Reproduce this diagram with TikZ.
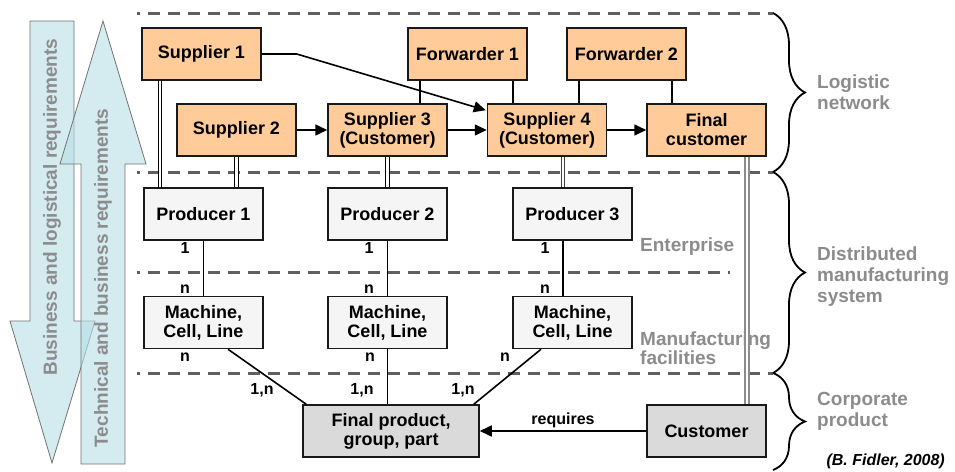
\documentclass[tikz,border=0pt]{standalone}
\usepackage{fontspec}
\setmainfont{Liberation Sans}
\usetikzlibrary{arrows.meta,decorations.pathreplacing,calc}
\definecolor{peach}{HTML}{FFCC99}
\definecolor{lightbox}{HTML}{F5F5F5}
\definecolor{greybox}{HTML}{DADADA}
\definecolor{labelgrey}{HTML}{8C8C8C}
\definecolor{dashgrey}{HTML}{5F5F5F}
\definecolor{arrowfill}{HTML}{B8DEE6}
\tikzset{
  box/.style={draw=black!90, line width=1.5pt, minimum width=119pt, minimum height=52pt,
    inner sep=0pt, align=center, font=\fontsize{18}{19}\selectfont\bfseries},
  orangebox/.style={box, fill=peach},
  whitebox/.style={box, fill=lightbox},
  greyboxst/.style={box, fill=greybox},
  arr/.style={line width=1.6pt, -{Triangle[length=12pt,width=11pt]}},
  plain/.style={line width=1.6pt},
  dbl/.style={double, line width=1.2pt, double distance=2.2pt},
  thindbl/.style={double, draw=black!75, line width=0.9pt, double distance=2.2pt},
  greydbl/.style={double, draw=black!45, line width=1.3pt, double distance=2.6pt},
  sep/.style={draw=dashgrey, line width=3pt, dash pattern=on 12pt off 8pt, dash phase=9pt},
  brc/.style={decorate, decoration={brace, amplitude=32pt}, line width=1.8pt},
  glabel/.style={text=labelgrey, font=\fontsize{19}{21}\selectfont\bfseries, align=left, anchor=west, inner sep=0pt},
  card/.style={font=\fontsize{16}{17}\selectfont\bfseries, inner sep=0pt},
  bigarrow/.style={draw=black!55, line width=0.8pt, fill=arrowfill, fill opacity=0.6},
  arrtext/.style={text=labelgrey, font=\fontsize{19}{21}\selectfont\bfseries, rotate=90, inner sep=0pt}
}
\begin{document}
\begin{tikzpicture}[x=1pt,y=-1pt]
\useasboundingbox (0,0) rectangle (955,471);
\fill[white] (0,0) rectangle (955,471);

% big arrows
\draw[bigarrow] (30,21) -- (74,21) -- (74,321) -- (95,321) -- (52,463) -- (10,321) -- (30,321) -- cycle;
\draw[bigarrow] (81,464) -- (125,464) -- (125,164) -- (146,164) -- (103,21) -- (60,164) -- (81,164) -- cycle;
\node[arrtext] (t1) at (52,207) {Business and logistical requirements};
\node[arrtext] (t2) at (103,278) {Technical and business requirements};

% separators
\draw[sep] (137,13) -- (773,13);
\draw[sep] (137,172) -- (773,172);
\draw[sep] (137,272) -- (730,272);
\draw[sep] (137,373) -- (773,373);

% braces
\draw[brc] (773,13) -- (773,172);
\draw[brc] (773,172) -- (773,373);
\draw[brc] (773,373) -- (773,470);

% grey labels
\node[glabel] (l1) at (817,92) {Logistic\\network};
\node[glabel] (l2) at (817,277) {Distributed\\manufacturing\\system};
\node[glabel] (l3) at (817,411) {Corporate\\product};
\node[glabel] (l4) at (640,247) {Enterprise};
\node[glabel, font=\fontsize{19}{17}\selectfont\bfseries] (l5) at (640,348) {Manufacturing\\facilities};
\node[anchor=east, font=\fontsize{16}{17}\selectfont\bfseries\itshape, inner sep=0pt] (src) at (945,461) {(B. Fidler, 2008)};

% boxes
\node[orangebox] (S1) at (201.5,54) {Supplier 1};
\node[orangebox] (S2) at (236.5,130) {Supplier 2};
\node[orangebox] (F1) at (467.5,54) {Forwarder 1};
\node[orangebox] (F2) at (626.5,54) {Forwarder 2};
\node[orangebox] (S3) at (387.5,130) {Supplier 3\\(Customer)};
\node[orangebox] (S4) at (547,130) {Supplier 4\\(Customer)};
\node[orangebox] (FC) at (706.5,130) {Final\\customer};
\node[whitebox] (P1) at (203.5,214) {Producer 1};
\node[whitebox] (P2) at (387.5,214) {Producer 2};
\node[whitebox] (P3) at (572.5,214) {Producer 3};
\node[whitebox] (M1) at (203.5,322.5) {Machine,\\Cell, Line};
\node[whitebox] (M2) at (387.5,322.5) {Machine,\\Cell, Line};
\node[whitebox] (M3) at (572.5,322.5) {Machine,\\Cell, Line};
\node[greyboxst, minimum width=176pt] (FP) at (391,431) {Final product,\\group, part};
\node[greyboxst] (Cu) at (706.5,431) {Customer};

% flows
\draw[arr] (S1.east) -- ++(35,0) -- ([xshift=-1pt,yshift=-7pt]S4.north west);
\draw[arr] (S2) -- (S3);
\draw[arr] (S3) -- (S4);
\draw[arr] (S4) -- (FC);

% forwarders
\draw[plain] ([xshift=-47.5pt]F1.south) -- ([xshift=-47.5pt]F1.south |- S3.north);
\draw[plain] ([xshift=45.5pt]F1.south) -- ([xshift=45.5pt]F1.south |- S4.north);
\draw[plain] ([xshift=-47.5pt]F2.south) -- ([xshift=-47.5pt]F2.south |- S4.north);
\draw[plain] ([xshift=45.5pt]F2.south) -- ([xshift=45.5pt]F2.south |- FC.north);

% double links
\draw[dbl] ([xshift=-41.5pt]S1.south) -- ([xshift=-41.5pt]S1.south |- P1.north);
\draw[dbl] (S2.south) -- (S2.south |- P1.north);
\draw[dbl] (S3.south) -- (P2.north);
\draw[thindbl] ([xshift=16pt]S4.south) -- ([xshift=16pt]S4.south |- P3.north);
\draw[greydbl] ([xshift=40.5pt]FC.south) -- ([xshift=40.5pt]FC.south |- Cu.north);

% producer - machine
\draw[plain] (P1.south) -- (M1.north);
\draw[plain] (P2.south) -- (M2.north);
\draw[plain] ([xshift=-9.5pt]P3.south) -- ([xshift=-9.5pt]P3.south |- M3.north);

% machine - product
\draw[plain] ([xshift=24.5pt]M1.south) -- ([xshift=4pt]FP.north west);
\draw[plain] (M2.south) -- (M2.south |- FP.north);
\draw[plain] ([xshift=-31.5pt]M3.south) -- ([xshift=-6pt]FP.north east);

% requires
\draw[arr] (Cu) -- node[above, card, inner sep=2pt] (req) {requires} (FP);

% cardinalities
\node[card] (c1) at (185,248) {1};
\node[card] (c2) at (185,289) {n};
\node[card] (c3) at (185,357) {n};
\node[card] (c4) at (262,390) {1,n};
\node[card] (c5) at (369,248) {1};
\node[card] (c6) at (369,289) {n};
\node[card] (c7) at (370,357) {n};
\node[card] (c8) at (362,390) {1,n};
\node[card] (c9) at (545,248) {1};
\node[card] (c10) at (545,289) {n};
\node[card] (c11) at (505,357) {n};
\node[card] (c12) at (463,390) {1,n};
\end{tikzpicture}
\end{document}
